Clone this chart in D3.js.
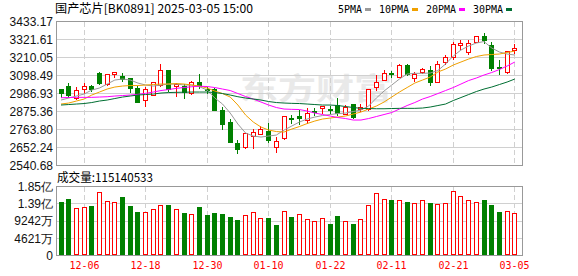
<!DOCTYPE html>
<html>
<head>
<meta charset="utf-8">
<script src="https://cdn.jsdelivr.net/npm/d3@7"></script>
<style>
  body { margin: 0; background: #fff; }
  svg { display: block; }
</style>
</head>
<body>
<svg id="chart" width="578" height="276"></svg>
<script>

// trading days shown (60 bars)
var dates = [
  "12-03","12-04","12-05","12-06","12-09","12-10","12-11","12-12","12-13","12-16",
  "12-17","12-18","12-19","12-20","12-23","12-24","12-25","12-26","12-27","12-30",
  "12-31","01-02","01-03","01-06","01-07","01-08","01-09","01-10","01-13","01-14",
  "01-15","01-16","01-17","01-20","01-21","01-22","01-23","01-24","01-27","02-05",
  "02-06","02-07","02-10","02-11","02-12","02-13","02-14","02-17","02-18","02-19",
  "02-20","02-21","02-24","02-25","02-26","02-27","02-28","03-03","03-04","03-05"
];

var openP = [
  3012.7,3033.2,2956.9,3016.4,3035.0,3115.7,3043.7,3109.5,3093.3,3080.9,
  3022.6,2946.4,2977.4,3037.5,3132.4,3033.2,3033.2,2987.9,3056.1,3012.7,
  3014.6,2884.4,2811.9,2678.0,2653.2,2723.2,2735.6,2756.1,2656.9,2709.0,
  2836.7,2847.2,2822.4,2876.3,2894.9,2888.7,2915.4,2859.6,2921.6,2888.7,
  2888.7,3025.1,3070.4,3115.7,3089.0,3162.2,3084.0,3118.8,3135.5,3061.1,
  3182.0,3213.0,3290.5,3242.8,3309.1,3345.1,3288.6,3154.1,3118.1,3259.5
];
var closeP = [
  2991.6,2977.4,3008.4,3033.2,3012.7,3053.7,3107.6,3118.1,3077.8,3023.9,
  2935.9,3012.7,3056.1,3132.4,3012.7,3048.7,2996.0,3056.1,3039.4,3006.5,
  2884.4,2797.6,2687.9,2640.8,2740.0,2749.9,2764.8,2696.0,2692.0,2847.2,
  2829.0,2832.0,2867.7,2872.0,2909.2,2884.4,2863.9,2904.9,2839.1,2901.1,
  3012.7,3058.0,3115.7,3107.6,3166.5,3106.0,3109.0,3141.7,3056.1,3171.5,
  3211.1,3293.6,3297.0,3300.0,3342.0,3316.5,3147.0,3143.0,3249.0,3271.9
];
var highP = [
  3017.7,3054.9,3025.1,3053.7,3039.4,3121.9,3110.0,3120.0,3116.9,3084.7,
  3033.2,3025.1,3058.0,3169.6,3134.0,3054.9,3048.7,3067.3,3107.6,3027.0,
  3020.8,2901.1,2826.8,2698.4,2744.9,2768.5,2785.2,2805.7,2715.2,2850.3,
  2853.4,2884.4,2894.9,2894.9,2911.0,2909.2,2956.9,2915.4,2923.0,2921.6,
  3015.0,3101.4,3132.4,3129.3,3168.0,3169.6,3123.1,3147.9,3155.4,3186.3,
  3225.4,3306.0,3320.3,3320.3,3344.0,3363.7,3309.1,3197.5,3250.2,3293.6
];
var lowP = [
  2968.1,2965.0,2952.6,2991.6,3002.2,3048.7,3041.0,3090.9,3067.3,2996.0,
  2934.0,2909.2,2975.0,3035.0,3005.3,2971.2,2958.8,2985.0,3020.8,2989.8,
  2882.0,2768.5,2685.0,2615.9,2650.0,2647.0,2733.0,2689.1,2625.9,2704.6,
  2805.7,2797.6,2801.9,2853.4,2867.7,2867.7,2853.4,2857.0,2837.0,2880.1,
  2886.0,3008.4,3068.0,3089.0,3087.0,3104.5,3062.3,3116.0,3041.3,3059.0,
  3172.7,3198.8,3264.5,3231.6,3307.0,3301.7,3135.5,3108.8,3116.0,3237.8
];

// volume, in 万 (10k)
var volume = [
  14400,15220,12770,13050,13320,17040,14600,14320,15760,13320,
  11690,11600,12420,13500,13590,12420,11420,11060,13050,10870,
  11420,11140,10330,9510,10790,11600,9970,10060,8150,11880,
  10330,11060,9700,9160,9970,8430,10600,9160,8430,9700,
  13500,16770,15140,14950,14860,14400,14050,14860,14130,13860,
  14050,17310,15950,14860,14320,14950,13590,11690,11880,11514
];

// moving averages
var ma5 = [
  2946.4,2958.8,2971.2,2983.6,3008.4,3020.8,3045.6,3070.4,3076.6,3070.4,
  3051.8,3039.4,3033.2,3039.4,3045.6,3045.6,3039.4,3039.4,3028.9,3008.4,
  2958.8,2921.6,2865.8,2797.6,2741.8,2723.2,2717.0,2723.2,2729.4,2760.4,
  2785.2,2810.0,2828.6,2841.0,2850.3,2856.5,2862.7,2865.8,2875.1,2884.4,
  2909.2,2958.8,3002.2,3039.4,3076.6,3107.6,3111.9,3111.9,3113.8,3129.3,
  3169.6,3219.2,3256.4,3281.2,3299.8,3309.1,3268.8,3244.0,3231.6,3225.4
];
var ma10 = [
  2921.6,2927.8,2940.2,2952.6,2977.4,2996.0,3014.6,3027.0,3033.2,3036.3,
  3036.3,3039.4,3042.5,3045.6,3045.6,3048.7,3045.6,3039.4,3033.2,3020.8,
  3002.2,2986.7,2965.0,2915.4,2853.4,2810.0,2779.0,2760.4,2751.1,2748.0,
  2766.6,2782.1,2800.7,2816.2,2828.6,2834.8,2841.0,2847.2,2859.6,2872.0,
  2890.6,2909.2,2934.0,2965.0,2996.0,3023.9,3051.8,3070.4,3089.0,3120.0,
  3138.6,3163.4,3182.0,3200.6,3216.1,3225.4,3228.5,3231.6,3240.9,3250.2
];
var ma20 = [
  2960.7,2961.9,2963.1,2963.1,2963.1,2965.0,2966.9,2971.2,2974.3,2977.4,
  2981.7,2987.9,2996.0,3005.3,3011.5,3018.9,3023.9,3028.9,3032.0,3030.1,
  3023.9,3014.6,3005.3,2986.7,2968.1,2952.6,2934.0,2915.4,2899.9,2890.6,
  2888.7,2887.5,2878.2,2865.8,2856.5,2847.2,2837.9,2831.7,2822.4,2822.4,
  2831.7,2844.1,2856.5,2868.9,2890.6,2912.3,2930.9,2952.6,2968.1,2986.7,
  3005.3,3023.9,3045.6,3067.3,3082.8,3101.4,3116.9,3135.5,3157.2,3182.0
];
var ma30 = [
  2915.4,2918.5,2921.6,2924.7,2930.9,2940.2,2946.4,2955.7,2965.0,2971.2,
  2977.4,2980.5,2983.6,2989.8,2992.9,2994.1,2994.8,2996.0,2996.0,2996.0,
  2992.9,2986.7,2977.4,2966.9,2958.8,2952.6,2946.4,2937.1,2930.9,2927.8,
  2925.9,2924.7,2921.6,2918.5,2915.4,2915.4,2912.3,2906.1,2899.9,2894.9,
  2893.7,2892.5,2892.5,2893.7,2894.9,2894.9,2894.9,2896.8,2903.0,2912.3,
  2921.6,2943.3,2961.9,2980.5,2999.1,3014.6,3027.0,3042.5,3058.0,3076.6
];

var priceTicks = [3433.17, 3321.61, 3210.05, 3098.49, 2986.93, 2875.36, 2763.80, 2652.24, 2540.68];
var volTicks = [0, 4621, 9242, 13863, 18484];
var volTickLabels = ["0", "4621万", "9242万", "1.39亿", "1.85亿"];
var dateTicks = ["12-06","12-18","12-30","01-10","01-22","02-11","02-21","03-05"];

var maNames = ["5PMA", "10PMA", "20PMA", "30PMA"];
var maSeries = [ma5, ma10, ma20, ma30];
var maColors = ["#9a9a9a", "#f0a000", "#ff00ff", "#006e32"];

var titleText = "国产芯片[BK0891] 2025-03-05 15:00";
var lastVolume = "115140533";

var RED = "#ff0000", GREEN = "#008000", GRID = "#d0d0d0", BORDER = "#999";
var CJK = "'Noto Sans CJK SC', sans-serif";
var MONO = "'DejaVu Sans Mono', monospace";
var SANS = "'Liberation Sans', Arial, sans-serif";


var svg = d3.select("#chart");

// plot boxes
var L = 56.5, R = 522.5;
var pTop = 21.5, pBot = 165.5;
var vTop = 186.5, vBot = 255.5;

var x = d3.scalePoint().domain(dates).range([60.5, 514.3]);
var y = d3.scaleLinear().domain([2540.68, 3433.17]).range([pBot, pTop]);
var yv = d3.scaleLinear().domain([0, 18484]).range([vBot, vTop]);

function px(v) { return Math.floor(v) + 0.5; }
function cxOf(i) { return Math.round(x(dates[i])); }

svg.append("rect").attr("width", 578).attr("height", 276).attr("fill", "#fff");

// watermark
svg.append("text")
  .attr("x", 240).attr("y", 99)
  .attr("textLength", 152).attr("lengthAdjust", "spacingAndGlyphs")
  .style("font-family", CJK).style("font-size", "30px").style("font-weight", "bold")
  .attr("fill", "#e9e9e9")
  .text("东方财富");


/*** GRID ***/
function drawGrid(top, bot, hvals, yscale) {
  var g = svg.append("g").attr("shape-rendering", "crispEdges");
  g.selectAll("line.h")
    .data(hvals)
    .enter().append("line")
      .attr("x1", L).attr("x2", R)
      .attr("y1", function(d) { return px(yscale(d)); })
      .attr("y2", function(d) { return px(yscale(d)); })
      .attr("stroke", GRID);
  g.selectAll("line.v")
    .data(dateTicks)
    .enter().append("line")
      .attr("x1", function(d) { return Math.round(x(d)) + 0.5; })
      .attr("x2", function(d) { return Math.round(x(d)) + 0.5; })
      .attr("y1", top).attr("y2", bot)
      .attr("stroke", GRID)
      .attr("stroke-dasharray", "5,3");
}

drawGrid(pTop, pBot, priceTicks, y);
drawGrid(vTop, vBot, volTicks, yv);


/*** CANDLES ***/
var cg = svg.append("g").attr("shape-rendering", "crispEdges");

dates.forEach(function(d, i) {
  var up = closeP[i] >= openP[i];
  var col = up ? RED : GREEN;
  var cx = cxOf(i);
  var yt = Math.round(y(Math.max(openP[i], closeP[i])));
  var yb = Math.round(y(Math.min(openP[i], closeP[i])));

  cg.append("line")
    .attr("x1", cx + 0.5).attr("x2", cx + 0.5)
    .attr("y1", Math.round(y(highP[i]))).attr("y2", Math.round(y(lowP[i])) + 1)
    .attr("stroke", col);

  if (up) {
    cg.append("rect")
      .attr("x", cx - 1.5).attr("width", 4)
      .attr("y", yt + 0.5).attr("height", Math.max(yb - yt, 1))
      .attr("fill", "#fff").attr("stroke", col);
  } else {
    cg.append("rect")
      .attr("x", cx - 2).attr("width", 5)
      .attr("y", yt).attr("height", Math.max(yb - yt, 1) + 1)
      .attr("fill", col);
  }
});


/*** MOVING AVERAGES ***/
maSeries.forEach(function(s, k) {
  var line = d3.line()
    .x(function(v, i) { return x(dates[i]) + 0.5; })
    .y(function(v) { return y(v); });
  svg.append("path")
    .datum(s)
    .attr("d", line)
    .attr("fill", "none")
    .attr("stroke", maColors[k])
    .attr("stroke-width", 1);
});


/*** VOLUME ***/
var vg = svg.append("g").attr("shape-rendering", "crispEdges");

dates.forEach(function(d, i) {
  // volume colour follows change vs previous close
  var up = i == 0 ? closeP[i] >= openP[i] : closeP[i] >= closeP[i - 1];
  var cx = cxOf(i);
  var yt = Math.round(yv(volume[i]));
  if (up) {
    vg.append("rect")
      .attr("x", cx - 1.5).attr("width", 4)
      .attr("y", yt + 0.5).attr("height", Math.floor(vBot) - yt - 1)
      .attr("fill", "#fff").attr("stroke", RED);
  } else {
    vg.append("rect")
      .attr("x", cx - 2).attr("width", 5)
      .attr("y", yt).attr("height", Math.floor(vBot) - yt)
      .attr("fill", GREEN);
  }
});


/*** BORDERS ***/
svg.append("rect")
  .attr("x", L).attr("y", pTop).attr("width", R - L).attr("height", pBot - pTop)
  .attr("fill", "none").attr("stroke", BORDER).attr("shape-rendering", "crispEdges");
svg.append("rect")
  .attr("x", L).attr("y", vTop).attr("width", R - L).attr("height", vBot - vTop)
  .attr("fill", "none").attr("stroke", BORDER).attr("shape-rendering", "crispEdges");


/*** AXIS LABELS ***/
svg.selectAll("text.py")
  .data(priceTicks)
  .enter().append("text")
    .attr("x", 53).attr("y", function(d) { return y(d); })
    .attr("dy", "0.36em")
    .attr("text-anchor", "end")
    .style("font-family", SANS).style("font-size", "12px")
    .attr("fill", "#111")
    .text(function(d) { return d.toFixed(2); });

svg.selectAll("text.vy")
  .data(volTicks)
  .enter().append("text")
    .attr("x", 53).attr("y", function(d) { return yv(d); })
    .attr("dy", "0.36em")
    .attr("text-anchor", "end")
    .style("font-family", SANS).style("font-size", "12px")
    .attr("fill", "#111")
    .text(function(d, i) { return volTickLabels[i]; });

svg.selectAll("text.dx")
  .data(dateTicks)
  .enter().append("text")
    .attr("x", function(d) { return Math.round(x(d)) + 0.5; })
    .attr("y", 269)
    .attr("text-anchor", "middle")
    .attr("textLength", 30).attr("lengthAdjust", "spacingAndGlyphs")
    .style("font-family", MONO).style("font-size", "11px")
    .attr("fill", RED)
    .text(function(d) { return d; });


/*** TITLE / LEGEND ***/
svg.append("text")
  .attr("x", 55).attr("y", 13)
  .attr("textLength", 198).attr("lengthAdjust", "spacingAndGlyphs")
  .style("font-family", CJK).style("font-size", "12px")
  .attr("fill", "#000")
  .text(titleText);

svg.append("text")
  .attr("x", 57).attr("y", 182)
  .attr("textLength", 96).attr("lengthAdjust", "spacingAndGlyphs")
  .style("font-family", CJK).style("font-size", "12px")
  .attr("fill", "#000")
  .text("成交量:" + lastVolume);

var lx = 338;
maNames.forEach(function(name, k) {
  var w = name.length * 6;
  svg.append("text")
    .attr("x", lx).attr("y", 13)
    .attr("textLength", w).attr("lengthAdjust", "spacingAndGlyphs")
    .style("font-family", MONO).style("font-size", "11px")
    .attr("fill", "#000")
    .text(name);
  svg.append("rect")
    .attr("x", lx + w + 3).attr("y", 8).attr("width", 6).attr("height", 3)
    .attr("fill", maColors[k]);
  lx += w + 17;
});

</script>
</body>
</html>
